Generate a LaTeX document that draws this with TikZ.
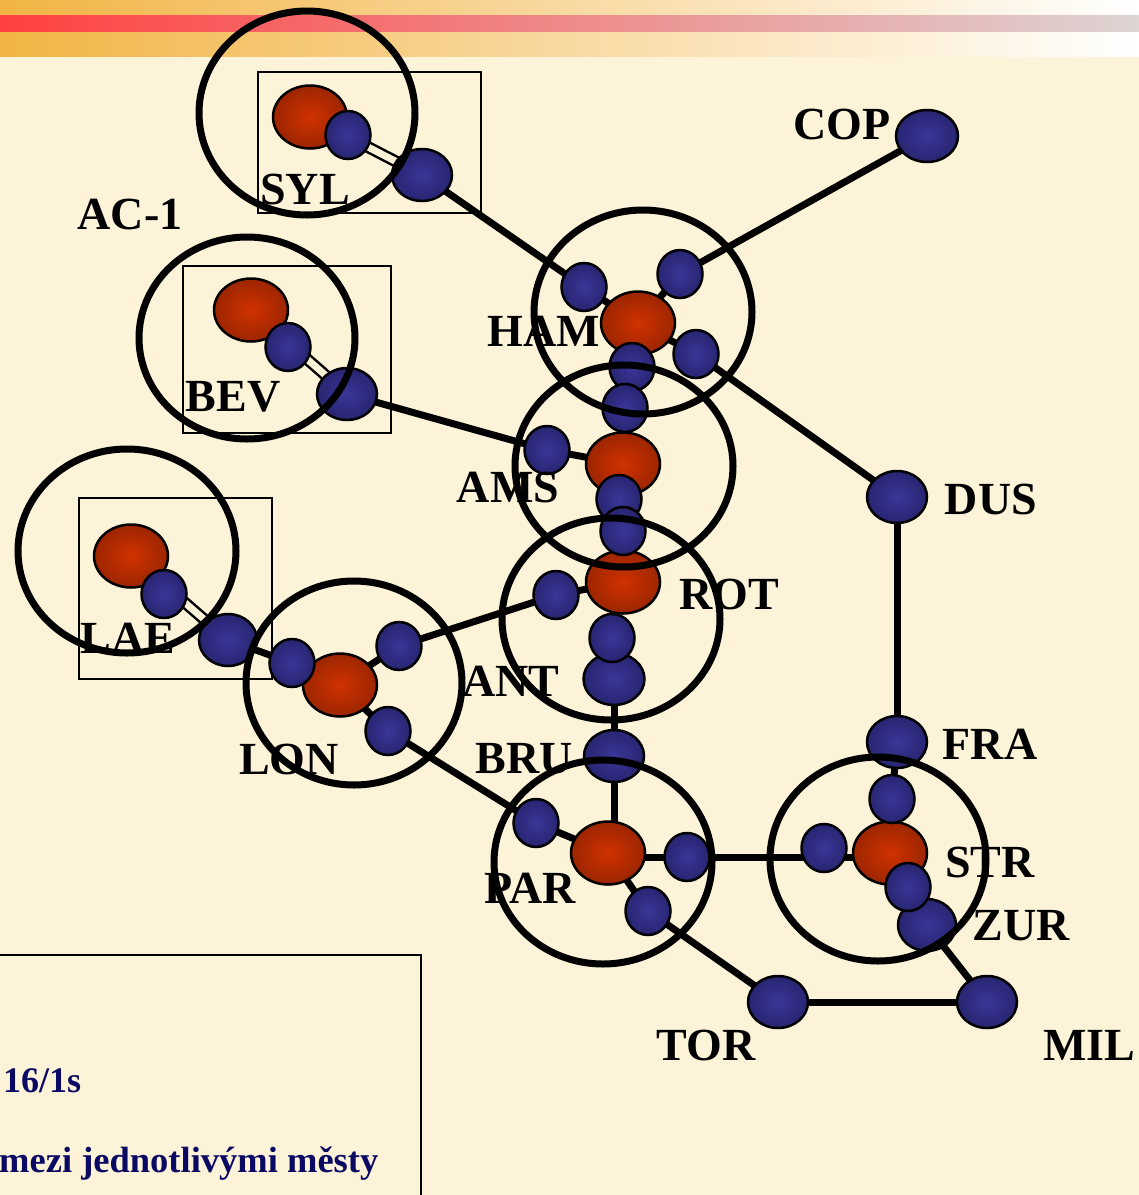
\documentclass[tikz,border=0pt]{standalone}
\usepackage{fontspec}
\setmainfont{Liberation Serif}
\usetikzlibrary{shapes.geometric}

\definecolor{bgcream}{RGB}{253,243,216}
\definecolor{barorange}{RGB}{242,180,68}
\definecolor{barred}{RGB}{255,64,64}
\definecolor{bargrey}{RGB}{222,212,212}
\definecolor{ballin}{RGB}{58,54,152}
\definecolor{ballout}{RGB}{22,20,75}
\definecolor{hubin}{RGB}{208,50,0}
\definecolor{hubout}{RGB}{105,25,0}
\definecolor{legendblue}{RGB}{10,10,100}

\pgfdeclareradialshading{ballshade}{\pgfpoint{0bp}{0bp}}%
  {color(0bp)=(ballin); color(50bp)=(ballout); color(72bp)=(ballout)}
\pgfdeclareradialshading{hubshade}{\pgfpoint{0bp}{0bp}}%
  {color(0bp)=(hubin); color(50bp)=(hubout); color(72bp)=(hubout)}

\pgfdeclarelayer{paper}
\pgfdeclarelayer{edges}
\pgfdeclarelayer{rings}
\pgfsetlayers{paper,edges,main,rings}

\begin{document}
\begin{tikzpicture}
[x=1pt,y=-1pt,%
  hub/.style={shape=ellipse,draw,line width=2.5pt,shading=hubshade,inner sep=0pt,minimum width=74pt,minimum height=63pt},%
  port/.style={shape=ellipse,draw,line width=2.5pt,shading=ballshade,inner sep=0pt,minimum width=45pt,minimum height=48pt},%
  gate/.style={port,minimum width=60pt,minimum height=52pt},%
  city/.style={font=\fontsize{46}{46}\selectfont\bfseries,inner sep=0pt},%
  link/.style={line width=7pt},%
  tie/.style={line width=2.5pt,double=bgcream,double distance=7pt},%
  ring/.style={line width=7pt},%
  frame/.style={line width=2pt}]
\useasboundingbox (0,0) rectangle (1139,1195);

% paper and title bars
\begin{pgfonlayer}{paper}
\fill[bgcream] (0,0) rectangle (1139,1195);
\shade[left color=barorange,right color=white] (0,0) rectangle (1139,56);
\shade[left color=barred,right color=bargrey] (0,15) rectangle (1139,31);
\draw[frame] (183,266) rectangle (391,433);
\draw[frame] (258,72) rectangle (481,213);
\draw[frame] (79,498) rectangle (272,679);
\draw[frame] (-5,955) rectangle (421,1205);
\end{pgfonlayer}

% routers
\node[hub] (syl) at (310,117) {};
\node[hub] (bev) at (251,310) {};
\node[hub] (lae) at (131,556) {};
\node[hub] (lon) at (340,685) {};
\node[hub] (ham) at (638,323) {};
\node[hub] (ams) at (623,464) {};
\node[hub] (rot) at (623,582) {};
\node[hub] (par) at (608,853) {};
\node[hub] (str) at (890,853) {};

% larger access points
\node[gate] (syl2) at (422,175) {};
\node[gate] (bev2) at (347,394) {};
\node[gate,minimum width=58pt] (lae2) at (228,640) {};
\node[gate,minimum width=61pt] (ant) at (614,679) {};
\node[gate] (bru) at (614,756) {};
\node[gate] (tor) at (778,1002) {};
\node[gate,minimum width=58pt] (zur) at (927,925) {};
\node[gate] (fra) at (897,742) {};
\node[gate] (dus) at (897,497) {};
\node[gate,minimum width=62pt] (cop) at (927,136) {};
\node[gate] (mil) at (987,1002) {};

% ports
\node[port] (syl1) at (348,135) {};
\node[port] (bev1) at (288,347) {};
\node[port] (lae1) at (164,594) {};
\node[port] (lon1) at (292,663) {};
\node[port] (lon2) at (399,646) {};
\node[port] (lon3) at (388,731) {};
\node[port] (ham1) at (584,287) {};
\node[port] (ham2) at (680,274) {};
\node[port] (ham3) at (696,354) {};
\node[port] (ham4) at (632,367) {};
\node[port] (ams0) at (625,408) {};
\node[port] (ams1) at (547,450) {};
\node[port] (ams2) at (619,499) {};
\node[port] (rot0) at (623,531) {};
\node[port] (rot1) at (556,595) {};
\node[port] (rot2) at (612,638) {};
\node[port] (par1) at (536,823) {};
\node[port] (par2) at (687,857) {};
\node[port] (par3) at (648,911) {};
\node[port] (str0) at (892,799) {};
\node[port] (str1) at (824,848) {};
\node[port] (str2) at (908,887) {};

% lines
\begin{pgfonlayer}{edges}
\foreach \a/\b in {syl/syl2,bev/bev2,lae/lae2}
  \draw[tie] (\a.center) -- (\b.center);
\foreach \a/\b in {syl2/ham1,bev2/ams1,lae2/lon1,
    lon/lon1,lon/lon2,lon/lon3,lon2/rot1,lon3/par1,
    ham/ham1,ham/ham2,ham/ham3,ham/ham4,ham2/cop,ham3/dus,ham4/ams0,
    ams/ams0,ams/ams1,ams/ams2,ams2/rot0,
    rot/rot0,rot/rot1,rot/rot2,rot2/ant,ant/bru,
    par/par1,par/par3,par3/tor,
    str/str0,str/str2,str2/zur,zur/mil,str0/fra,fra/dus,tor/mil}
  \draw[link] (\a.center) -- (\b.center);
\draw[link] (bru.center) -- (bru |- par.center);
\draw[link] (par2 -| par.center) -- (par2 -| str.center);
\end{pgfonlayer}

% areas and names
\begin{pgfonlayer}{rings}
\draw[ring] (307,113) ellipse [x radius=108,y radius=102];
\draw[ring] (247,338) ellipse [x radius=108,y radius=101];
\draw[ring] (127,551) ellipse [x radius=109,y radius=102];
\draw[ring] (354,683) ellipse [x radius=108,y radius=102];
\draw[ring] (643,312) ellipse [x radius=109,y radius=102];
\draw[ring] (624,466) ellipse [x radius=109,y radius=101];
\draw[ring] (611,619) ellipse [x radius=109,y radius=101];
\draw[ring] (603,862) ellipse [x radius=109,y radius=102];
\draw[ring] (878,859) ellipse [x radius=108,y radius=102];

\node[city] (ac1lbl) at (130,214) {AC-1};
\node[city] (syllbl) at (305,189) {SYL};
\node[city] (coplbl) at (842,124) {COP};
\node[city] (hamlbl) at (544,331) {HAM};
\node[city] (bevlbl) at (233,397) {BEV};
\node[city] (amslbl) at (508,487) {AMS};
\node[city] (duslbl) at (991,499) {DUS};
\node[city] (rotlbl) at (729,594) {ROT};
\node[city] (laelbl) at (128,638) {LAE};
\node[city] (antlbl) at (511,681) {ANT};
\node[city] (lonlbl) at (289,759) {LON};
\node[city] (brulbl) at (524,759) {BRU};
\node[city] (fralbl) at (990,744) {FRA};
\node[city] (strlbl) at (990,862) {STR};
\node[city] (parlbl) at (530,888) {PAR};
\node[city] (zurlbl) at (1021,926) {ZUR};
\node[city] (torlbl) at (706,1045) {TOR};
\node[city] (millbl) at (1089,1045) {MIL};

\node[anchor=base west,inner sep=0pt,text=legendblue,font=\fontsize{36}{36}\selectfont\bfseries]
  (rate) at (3,1092) {16/1s};
\node[anchor=base west,inner sep=0pt,text=legendblue,font=\fontsize{36.5}{36}\selectfont\bfseries]
  (note) at (-1,1172) {mezi jednotlivými městy};
\end{pgfonlayer}
\end{tikzpicture}
\end{document}
